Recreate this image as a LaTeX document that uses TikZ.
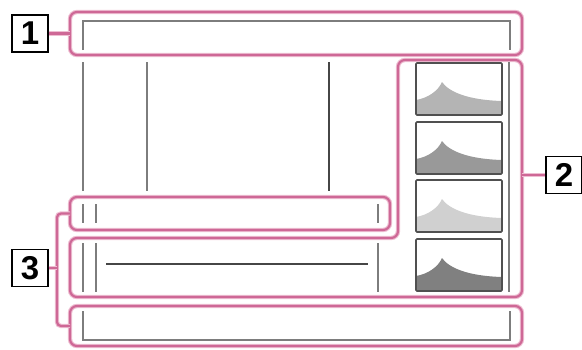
\documentclass[tikz,border=0pt]{standalone}
\usepackage{fontspec}
\newfontfamily\labelfont{Liberation Sans}
\usepackage{tikz}
\definecolor{pinkline}{RGB}{206,104,150}
\definecolor{pinkhalo}{RGB}{238,190,210}
\definecolor{frameline}{RGB}{125,125,125}
\definecolor{darkline}{RGB}{70,70,70}
\definecolor{histborder}{RGB}{80,80,80}
\definecolor{histA}{RGB}{180,180,180}
\definecolor{histB}{RGB}{153,153,153}
\definecolor{histC}{RGB}{208,208,208}
\definecolor{histD}{RGB}{128,128,128}

\begin{document}
\begin{tikzpicture}[x=1pt,y=-1pt,
  pinkedge/.style={draw=pinkline, line width=2.2pt, rounded corners=7pt,
    preaction={draw=pinkhalo, line width=4.4pt}},
  pinkbox/.style={pinkedge, inner sep=0pt, outer sep=0pt},
  labelbox/.style={draw=black, line width=1.3pt, fill=white, inner sep=0pt,
    minimum width=36pt, minimum height=37pt,
    font=\labelfont\bfseries\fontsize{33}{33}\selectfont},
  thin gray/.style={draw=frameline, line width=1.3pt},
  thin dark/.style={draw=darkline, line width=1.2pt}]
  \useasboundingbox (0,0) rectangle (582,349);

  \node[pinkbox, minimum width=452pt, minimum height=43pt] (top) at (296,33.5) {};
  \node[pinkbox, minimum width=320pt, minimum height=33pt] (rowa) at (230,213.5) {};
  \node[pinkbox, minimum width=452pt, minimum height=40pt] (rowc) at (296,326) {};
  \draw[pinkedge] (200,238) -- (398,238) -- (398,60) -- (522,60) -- (522,297)
    -- (70,297) -- (70,238) -- cycle;

  \node[labelbox] (lab1) at (30,33.5) {1};
  \node[labelbox] (lab2) at (564,175) {2};
  \node[labelbox] (lab3) at (30,268) {3};

  \coordinate (side2) at (522,175);
  \coordinate (brace3) at (57,268);
  \draw[pinkedge] (lab1.east) -- (top.west);
  \draw[pinkedge] (side2) -- (lab2.west);
  \draw[pinkedge, rounded corners=4pt] (rowa.west) -| (brace3) |- (rowc.west);
  \draw[pinkedge] (lab3.east) -- (brace3);

  \draw[thin gray] (83,50) |- (510,21) -- (510,50);
  \draw[thin gray] (83,311) |- (510,340) -- (510,311);
  \foreach \x in {83,147}
    \draw[thin gray] (\x,62) -- (\x,191);
  \draw[thin dark] (329,62) -- (329,191);
  \foreach \x in {83,96,378}
    \draw[thin gray] (\x,204) -- (\x,223);
  \foreach \x in {83,96,378}
    \draw[thin gray] (\x,243) -- (\x,292);
  \draw[thin dark] (106,264) -- (368,264);
  \draw[thin gray] (509,62) -- (509,292);

  \foreach \y/\c in {63/histA,122/histB,180/histC,239/histD}{
    \begin{scope}[shift={(416,\y)}]
      \fill[\c] (0,37) .. controls (12,35) and (22,28) .. (26,19)
        .. controls (33,29) and (52,37) .. (86,38) -- (86,52) -- (0,52) -- cycle;
      \draw[histborder, line width=1.6pt, rounded corners=1pt] (0,0) rectangle (86,52);
    \end{scope}
  }
\end{tikzpicture}
\end{document}
